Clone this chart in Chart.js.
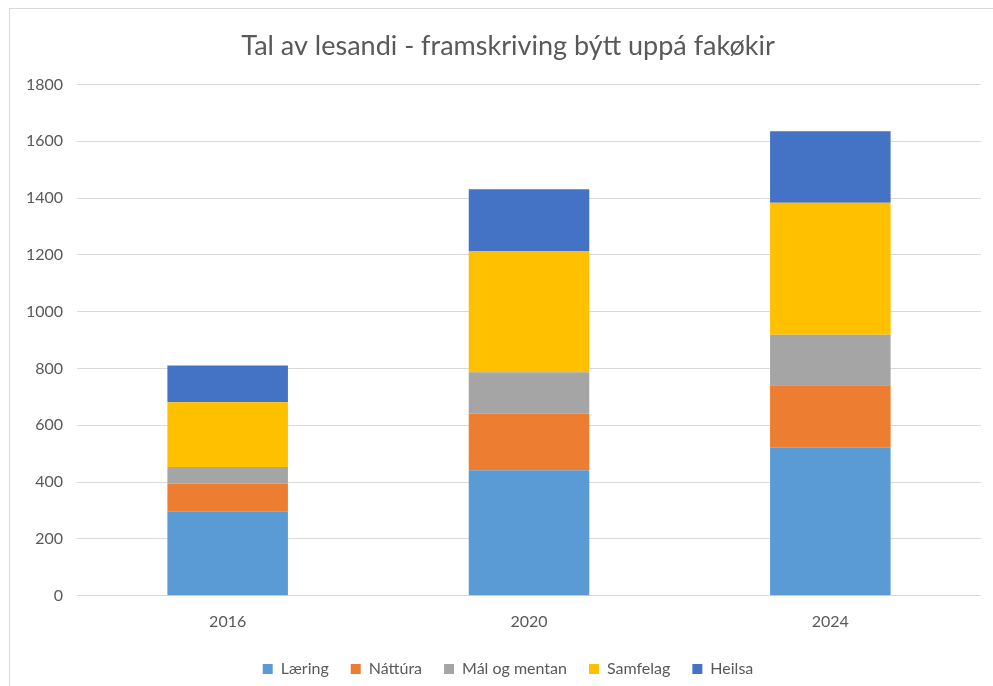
<!DOCTYPE html>
<html>
<head>
<meta charset="utf-8">
<script src="https://cdn.jsdelivr.net/npm/chart.js@4"></script>
<style>
  body { margin: 0; background: #fff; }
  #frame {
    position: absolute; left: 9px; top: 8px; width: 984px; height: 678px;
    border-left: 1px solid #d9d9d9; border-top: 1px solid #d9d9d9;
  }
</style>
</head>
<body>
<div id="frame"><canvas id="chart"></canvas></div>
<script>
// ====================
// データ
// ====================
const years = ["2016", "2020", "2024"];
const laering = [298, 442, 521];
const natura = [96, 200, 220];
const malMentan = [59, 145, 178];
const samfelag = [228, 427, 464];
const heilsa = [130, 217, 252];

const chartTitle = "Tal av lesandi - framskriving býtt uppá fakøkir";
const textColor = "#595959";
const fontFamily = "Lato, 'Open Sans', sans-serif";

const series = [
  { label: "Læring", data: laering, color: "#5B9BD5" },
  { label: "Náttúra", data: natura, color: "#ED7D31" },
  { label: "Mál og mentan", data: malMentan, color: "#A5A5A5" },
  { label: "Samfelag", data: samfelag, color: "#FFC000" },
  { label: "Heilsa", data: heilsa, color: "#4472C4" }
];

new Chart(document.getElementById("chart"), {
  type: "bar",
  data: {
    labels: years,
    datasets: series.map(s => ({
      label: s.label,
      data: s.data,
      backgroundColor: s.color,
      borderWidth: 0,
      categoryPercentage: 1,
      barPercentage: 0.4
    }))
  },
  options: {
    responsive: true,
    maintainAspectRatio: false,
    animation: false,
    layout: { padding: { left: 25, right: 13, top: 0, bottom: 0 } },
    plugins: {
      title: {
        display: true,
        text: chartTitle,
        color: textColor,
        font: { family: fontFamily, size: 27, weight: "normal" },
        padding: { top: 21, bottom: 22 }
      },
      legend: {
        position: "bottom",
        labels: {
          color: textColor,
          font: { family: fontFamily, size: 16 },
          boxWidth: 10,
          boxHeight: 10,
          padding: 22
        }
      },
      tooltip: { enabled: false }
    },
    scales: {
      x: {
        stacked: true,
        grid: { display: false },
        border: { display: false },
        ticks: { color: textColor, font: { family: fontFamily, size: 16 }, padding: 8 }
      },
      y: {
        stacked: true,
        min: 0,
        max: 1800,
        // 軸幅を固定し、ラベルは mirror で軸の外側へはみ出させる（クリップ回避）
        afterFit: scale => { scale.width = 42; },
        ticks: {
          stepSize: 200,
          color: textColor,
          font: { family: fontFamily, size: 16 },
          mirror: true,
          crossAlign: "far",
          padding: -51,
          callback: v => String(v)
        },
        grid: { color: "#d9d9d9", drawTicks: false },
        border: { display: false }
      }
    }
  }
});
</script>
</body>
</html>
